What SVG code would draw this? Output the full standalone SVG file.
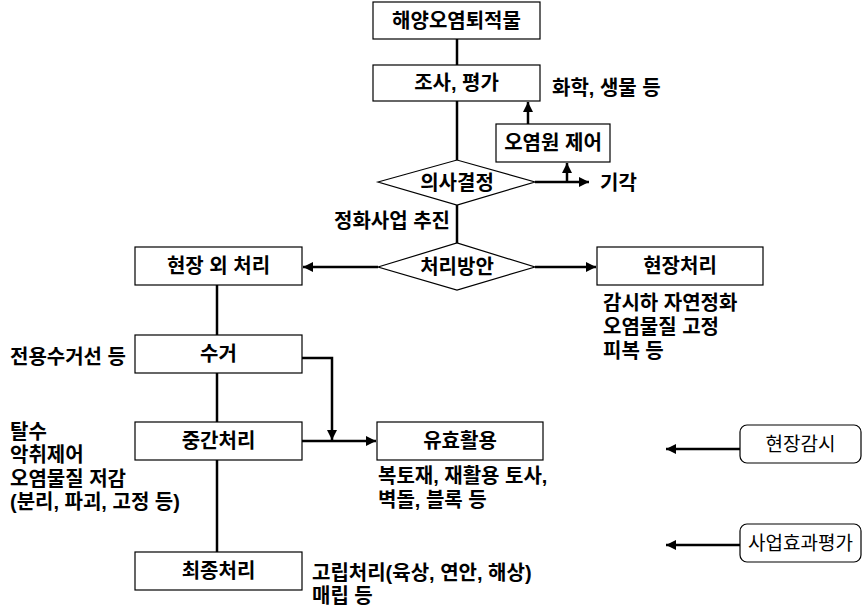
<svg xmlns="http://www.w3.org/2000/svg" width="862" height="609" viewBox="0 0 862 609">
<style>
.box{fill:#fff;stroke:#000;stroke-width:1.2}
.t{font-family:"Liberation Sans","Noto Sans CJK KR",sans-serif;font-weight:bold;font-size:20px;fill:#000}
.tc{text-anchor:middle;dominant-baseline:central}
.n{font-weight:normal;font-size:19px}
.ln{fill:none;stroke:#000;stroke-width:2.5}
</style>
<defs>
<marker id="ah" viewBox="0 0 10 10" refX="10" refY="5" markerWidth="4" markerHeight="4" orient="auto" markerUnits="strokeWidth">
<path d="M0,0 L10,5 L0,10 z" fill="#000"/>
</marker>
</defs>
<rect width="862" height="609" fill="#fff"/>
<g id="connectors">
<path class="ln" d="M457,38 V65"/>
<path class="ln" d="M457,101 V160"/>
<path class="ln" d="M528,124 V102" marker-end="url(#ah)"/>
<path class="ln" d="M535,182 H589" marker-end="url(#ah)"/>
<path class="ln" d="M567,182 V163" marker-end="url(#ah)"/>
<path class="ln" d="M457,205 V243"/>
<path class="ln" d="M378,267 H303" marker-end="url(#ah)"/>
<path class="ln" d="M535,267 H596" marker-end="url(#ah)"/>
<path class="ln" d="M217,285 V335"/>
<path class="ln" d="M217,373 V422"/>
<path class="ln" d="M302,358 H332 V440" marker-end="url(#ah)"/>
<path class="ln" d="M302,441 H376" marker-end="url(#ah)"/>
<path class="ln" d="M217,460 V552"/>
<path class="ln" d="M740,449 H666" marker-end="url(#ah)"/>
<path class="ln" d="M740,545 H666" marker-end="url(#ah)"/>
</g>
<g id="n-sediment"><rect class="box" x="373" y="2" width="167" height="37"/><text class="t tc" x="456.5" y="20.5">해양오염퇴적물</text></g>
<g id="n-survey"><rect class="box" x="373" y="65" width="167" height="36"/><text class="t tc" x="456.5" y="83">조사, 평가</text></g>
<g id="n-survey-note"><text class="t" x="552" y="95">화학, 생물 등</text></g>
<g id="n-source"><rect class="box" x="496" y="124" width="114" height="38"/><text class="t tc" x="553" y="143">오염원 제어</text></g>
<g id="n-decision"><polygon class="box" points="378,182 457,160 535,182 457,205"/><text class="t tc" x="457" y="182.5">의사결정</text></g>
<g id="n-reject"><text class="t" x="600" y="190">기각</text></g>
<g id="n-promote"><text class="t" x="334" y="228">정화사업 추진</text></g>
<g id="n-method"><polygon class="box" points="378,267 457,243 535,267 457,290"/><text class="t tc" x="457" y="267">처리방안</text></g>
<g id="n-offsite"><rect class="box" x="135" y="247" width="167" height="38"/><text class="t tc" x="218.5" y="266">현장 외 처리</text></g>
<g id="n-onsite"><rect class="box" x="597" y="247" width="166" height="38"/><text class="t tc" x="680" y="266">현장처리</text></g>
<g id="n-onsite-note"><text class="t" x="603" y="310">감시하 자연정화</text><text class="t" x="603" y="334">오염물질 고정</text><text class="t" x="603" y="358">피복 등</text></g>
<g id="n-collect"><rect class="box" x="135" y="335" width="167" height="38"/><text class="t tc" x="218.5" y="354">수거</text></g>
<g id="n-collect-note"><text class="t" x="10" y="364">전용수거선 등</text></g>
<g id="n-mid"><rect class="box" x="135" y="422" width="167" height="38"/><text class="t tc" x="218.5" y="441">중간처리</text></g>
<g id="n-mid-note"><text class="t" x="10" y="439">탈수</text><text class="t" x="10" y="462">악취제어</text><text class="t" x="10" y="486">오염물질 저감</text><text class="t" x="10" y="509">(분리, 파괴, 고정 등)</text></g>
<g id="n-reuse"><rect class="box" x="377" y="422" width="166" height="38"/><text class="t tc" x="460" y="441">유효활용</text></g>
<g id="n-reuse-note"><text class="t" x="378" y="483">복토재, 재활용 토사,</text><text class="t" x="378" y="507">벽돌, 블록 등</text></g>
<g id="n-final"><rect class="box" x="135" y="552" width="167" height="38"/><text class="t tc" x="218.5" y="571">최종처리</text></g>
<g id="n-final-note"><text class="t" x="312" y="580">고립처리(육상, 연안, 해상)</text><text class="t" x="312" y="603">매립 등</text></g>
<g id="n-monitor"><rect class="box" x="740" y="425" width="121" height="38" rx="7"/><text class="t tc n" x="800.5" y="444">현장감시</text></g>
<g id="n-eval"><rect class="box" x="740" y="524" width="121" height="38" rx="7"/><text class="t tc n" x="800.5" y="543">사업효과평가</text></g>
</svg>
